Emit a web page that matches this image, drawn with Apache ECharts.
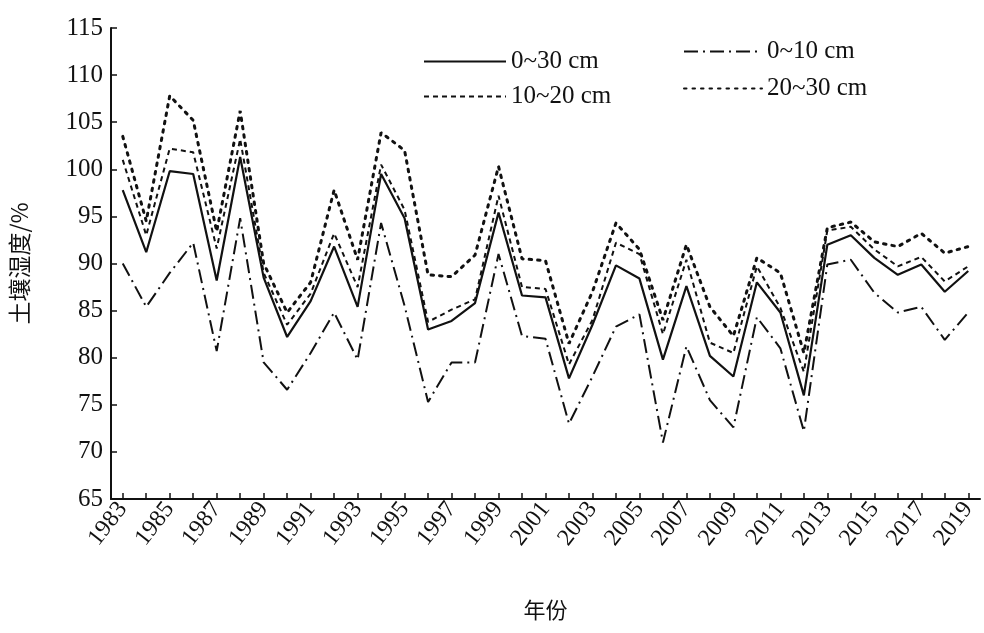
<!DOCTYPE html>
<html>
<head>
<meta charset="utf-8">
<script src="https://cdn.jsdelivr.net/npm/echarts@6/dist/echarts.min.js"></script>
<style>
html,body{margin:0;padding:0;background:#fff;}
#chart{width:984px;height:633px;}
</style>
</head>
<body>
<div id="chart"></div>
<script>
var years = ['1983','1984','1985','1986','1987','1988','1989','1990','1991','1992','1993','1994','1995','1996','1997','1998','1999','2000','2001','2002','2003','2004','2005','2006','2007','2008','2009','2010','2011','2012','2013','2014','2015','2016','2017','2018','2019'];

var s0_30 = [97.8, 91.2, 99.8, 99.5, 88.2, 101.3, 88.5, 82.2, 86.0, 91.8, 85.4, 99.5, 94.8, 83.0, 83.9, 85.8, 95.4, 86.6, 86.4, 77.8, 83.5, 89.8, 88.4, 79.8, 87.6, 80.2, 78.0, 88.0, 84.8, 76.0, 92.0, 93.0, 90.6, 88.8, 89.9, 87.0, 89.2];
var s0_10 = [90.0, 85.4, 89.0, 92.2, 80.7, 94.8, 79.5, 76.6, 80.5, 84.8, 79.8, 94.3, 85.5, 75.3, 79.5, 79.5, 91.0, 82.3, 82.0, 73.0, 78.0, 83.3, 84.6, 71.0, 81.2, 75.5, 72.6, 84.3, 81.0, 72.2, 89.9, 90.4, 86.9, 84.8, 85.4, 81.9, 84.8];
var s10_20 = [101.0, 93.0, 102.2, 101.8, 91.6, 103.2, 89.0, 83.5, 86.8, 93.2, 87.5, 100.5, 95.7, 83.8, 85.1, 86.2, 97.2, 87.5, 87.3, 79.3, 84.0, 92.2, 91.0, 82.5, 90.4, 81.6, 80.5, 89.7, 85.3, 78.5, 93.5, 93.9, 91.5, 89.7, 90.7, 88.1, 89.7];
var s20_30 = [103.5, 94.5, 107.8, 105.2, 93.4, 106.2, 90.0, 84.8, 88.0, 97.8, 90.4, 103.9, 102.0, 88.8, 88.6, 90.9, 100.3, 90.5, 90.3, 81.5, 87.0, 94.3, 91.5, 84.0, 92.0, 85.4, 82.3, 90.6, 89.0, 80.5, 93.8, 94.4, 92.3, 91.8, 93.2, 91.1, 91.8];

var yMin = 65, yMax = 115, yStep = 5;
var names = ['0~30 cm', '0~10 cm', '10~20 cm', '20~30 cm'];

var serif = 'Liberation Serif';
var chart = echarts.init(document.getElementById('chart'));

function mk(name, data, type, width, cap) {
  return {
    name: name, type: 'line', data: data, symbol: 'none', smooth: false,
    lineStyle: {color: '#111', width: width, type: type, cap: cap || 'butt'},
    itemStyle: {color: '#111'},
    emphasis: {disabled: true}
  };
}

var legendText = {fontFamily: serif, fontSize: 25, color: '#111', padding: [0, 0, 0, 0]};

chart.setOption({
  animation: false,
  backgroundColor: '#fff',
  legend: [
    {
      data: [names[0], names[2]], orient: 'vertical', left: 418, top: 44,
      itemWidth: 82, itemHeight: 14, itemGap: 10,
      itemStyle: {opacity: 0},
      textStyle: legendText, selectedMode: false
    },
    {
      data: [names[1], names[3]], orient: 'vertical', left: 678, top: 34,
      itemWidth: 78, itemHeight: 14, itemGap: 12,
      itemStyle: {opacity: 0},
      textStyle: legendText, selectedMode: false
    }
  ],
  grid: {left: 110, right: 4, top: 28, bottom: 134, containLabel: false},
  xAxis: {
    type: 'category', data: years, boundaryGap: true,
    name: '年份', nameLocation: 'middle', nameGap: 100,
    nameTextStyle: {fontFamily: 'Noto Sans CJK SC', fontSize: 22, color: '#111'},
    axisLine: {lineStyle: {color: '#111', width: 2}},
    axisTick: {show: true, inside: true, length: 6, interval: 0, alignWithLabel: true, lineStyle: {color: '#111', width: 1.5}},
    axisLabel: {interval: 1, rotate: 52, fontFamily: serif, fontSize: 24, color: '#111', margin: 6},
    splitLine: {show: false}
  },
  yAxis: {
    type: 'value', min: yMin, max: yMax, interval: yStep,
    name: '土壤湿度/%', nameLocation: 'middle', nameGap: 80, nameRotate: 90,
    nameTextStyle: {fontFamily: 'Noto Sans CJK SC', fontSize: 23, color: '#111'},
    axisLine: {show: true, lineStyle: {color: '#111', width: 2}},
    axisTick: {show: true, inside: true, length: 6, lineStyle: {color: '#111', width: 1.5}},
    axisLabel: {fontFamily: serif, fontSize: 25, color: '#111', margin: 8},
    splitLine: {show: false}
  },
  series: [
    mk(names[0], s0_30, 'solid', 2.2),
    mk(names[1], s0_10, [14, 5, 2, 5], 2),
    mk(names[2], s10_20, [5, 4], 2),
    mk(names[3], s20_30, [2.5, 6], 3, 'round')
  ]
});
</script>
</body>
</html>
